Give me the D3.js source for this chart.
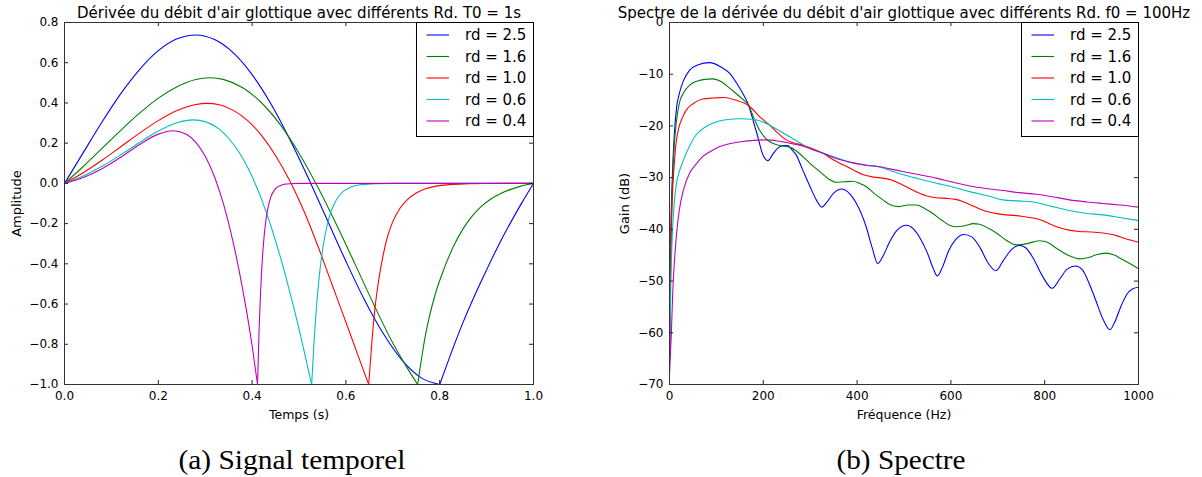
<!DOCTYPE html>
<html><head><meta charset="utf-8">
<script src="https://cdn.jsdelivr.net/npm/d3@7"></script>
<style>
body{margin:0;background:#fff}
svg{display:block}
</style>
</head><body>
<svg id="c" width="1202" height="477"></svg>
<script>
// ---------- data ----------
const seriesLabels = ["rd = 2.5", "rd = 1.6", "rd = 1.0", "rd = 0.6", "rd = 0.4"];
const seriesColors = ["#0000ff", "#008000", "#ff0000", "#00bfbf", "#bf00bf"];

const timeTicks = [0, 0.2, 0.4, 0.6, 0.8, 1.0];
const ampTicks = [-1.0, -0.8, -0.6, -0.4, -0.2, 0.0, 0.2, 0.4, 0.6, 0.8];
const freqTicks = [0, 200, 400, 600, 800, 1000];
const gainTicks = [-70, -60, -50, -40, -30, -20, -10, 0];

// time signal (s, amplitude)
const timeRd25 = [0,0.04,0.08,0.12,0.16,0.20,0.24,0.28,0.32,0.36,0.40,0.44,0.48,0.52,0.56,0.60,0.64,0.68,0.72,0.76,0.80,0.825,0.85,0.875,0.90,0.925,0.95,0.975,1.0];
const ampRd25  = [0,0.153,0.305,0.446,0.566,0.660,0.719,0.738,0.715,0.649,0.541,0.396,0.221,0.026,-0.181,-0.387,-0.581,-0.748,-0.880,-0.966,-1.0,-0.84,-0.69,-0.555,-0.43,-0.31,-0.20,-0.097,0];

const timeRd16 = [0,0.04,0.08,0.12,0.16,0.20,0.24,0.28,0.31,0.34,0.38,0.42,0.46,0.50,0.54,0.58,0.62,0.66,0.70,0.73,0.753,0.77,0.79,0.81,0.83,0.85,0.87,0.89,0.91,0.93,0.95,0.97,0.985,1.0];
const ampRd16  = [0,0.084,0.174,0.264,0.349,0.424,0.481,0.517,0.525,0.516,0.476,0.401,0.292,0.150,-0.018,-0.206,-0.404,-0.605,-0.794,-0.915,-1.0,-0.75,-0.555,-0.42,-0.31,-0.225,-0.16,-0.112,-0.076,-0.05,-0.031,-0.016,-0.007,0];

const timeRd10 = [0,0.04,0.08,0.12,0.16,0.20,0.24,0.28,0.303,0.33,0.36,0.39,0.42,0.45,0.48,0.51,0.54,0.57,0.60,0.625,0.6486,0.655,0.662,0.67,0.68,0.69,0.70,0.715,0.73,0.75,0.77,0.79,0.82,0.86,0.90,1.0];
const ampRd10  = [0,0.053,0.115,0.182,0.250,0.312,0.362,0.392,0.398,0.391,0.363,0.313,0.239,0.139,0.014,-0.135,-0.31,-0.50,-0.69,-0.85,-1.0,-0.80,-0.62,-0.48,-0.35,-0.255,-0.19,-0.125,-0.083,-0.048,-0.027,-0.015,-0.006,-0.002,-0.0005,0];

const timeRd06 = [0,0.04,0.08,0.12,0.16,0.20,0.24,0.275,0.30,0.33,0.36,0.38,0.40,0.42,0.44,0.46,0.48,0.50,0.515,0.527,0.532,0.537,0.542,0.547,0.555,0.565,0.575,0.59,0.61,0.63,0.66,0.70,1.0];
const ampRd06  = [0,0.037,0.085,0.142,0.203,0.260,0.302,0.316,0.307,0.270,0.196,0.125,0.034,-0.078,-0.211,-0.364,-0.537,-0.724,-0.876,-1.0,-0.79,-0.62,-0.49,-0.386,-0.264,-0.164,-0.102,-0.049,-0.019,-0.007,-0.002,0,0];

const timeRd04 = [0,0.04,0.08,0.12,0.16,0.20,0.232,0.26,0.28,0.30,0.32,0.34,0.36,0.38,0.40,0.4116,0.415,0.418,0.421,0.424,0.428,0.433,0.44,0.45,0.46,0.48,0.50,0.55,1.0];
const ampRd04  = [0,0.029,0.073,0.130,0.193,0.245,0.262,0.244,0.204,0.135,0.032,-0.111,-0.297,-0.528,-0.806,-1.0,-0.723,-0.544,-0.409,-0.307,-0.21,-0.13,-0.067,-0.026,-0.01,-0.0015,0,0,0];

// spectrum (Hz, dB)
const freqRd25 = [0,3,6,10,15,21,30,43,60,85,110,128,145,156,169,180,188,198,210,220,231,242,252,262,270,284,300,313,325,335,350,367,385,398,419,432,444,455,470,485,505,520,535,550,562,571,582,595,610,628,645,660,680,696,712,728,746,760,775,795,816,832,848,866,880,895,910,925,939,950,962,975,988,1000];
const gainRd25 = [-65,-40,-30,-22,-16.5,-13.7,-11.2,-9.2,-8.2,-7.75,-8.6,-9.8,-12,-13.7,-16.1,-19.5,-22.0,-25.3,-26.7,-25.5,-24.3,-23.8,-23.8,-24.7,-25.6,-28.5,-31.8,-34.3,-35.7,-34.8,-33,-32.2,-33.2,-34.9,-39.4,-43.5,-46.6,-45.2,-42.3,-40.2,-39.2,-39.9,-41.8,-44.6,-47.5,-49.0,-47.3,-44.2,-42,-41.0,-41.5,-43.2,-46.6,-48.0,-46,-44,-43.1,-43.6,-45.5,-49,-51.4,-49.6,-47.7,-47.1,-47.8,-50.5,-54,-57.5,-59.4,-57.8,-55,-52.6,-51.5,-51.2];

const freqRd16 = [0,3,6,10,15,21,30,43,60,75,92,110,128,153,169,181,192,203,213,224,235,256,270,284,300,320,340,355,372,391,405,419,437,455,472,490,508,526,543,561,580,597,612,630,648,661,680,697,718,739,760,789,806,824,850,874,892,910,930,947,965,985,1000];
const gainRd16 = [-65,-42,-32,-24,-19,-15.6,-13.6,-12.1,-11.3,-11.0,-10.9,-11.4,-12.7,-14.6,-16.1,-18.7,-20.8,-22.2,-23.0,-23.5,-23.8,-24.1,-24.8,-25.9,-27.3,-28.8,-30.3,-30.9,-30.8,-30.7,-31.1,-31.7,-33.1,-34.3,-35.3,-35.6,-35.3,-35.3,-35.9,-36.9,-38.2,-39.2,-39.5,-39.3,-38.9,-39.0,-39.8,-40.7,-42.1,-43.0,-42.8,-42.2,-42.5,-43.6,-45.0,-45.7,-45.5,-44.9,-44.6,-44.9,-45.8,-46.8,-47.6];

const freqRd10 = [0,3,6,10,14,20,28,36,50,71,95,117,140,169,192,213,230,249,265,284,305,327,350,370,392,412,435,455,475,497,520,547,570,590,610,625,650,675,700,718,735,753,775,789,810,832,855,874,900,924,945,959,980,1000];
const gainRd10 = [-65,-44,-34,-27.5,-23.3,-20.3,-18.3,-16.9,-15.7,-14.8,-14.6,-14.5,-15.0,-16.1,-18.2,-19.8,-21.3,-22.7,-23.3,-23.7,-24.4,-25.3,-26.6,-27.5,-28.5,-29.4,-29.9,-30.1,-30.5,-31.4,-32.5,-33.5,-33.9,-34.0,-34.2,-34.6,-35.6,-36.5,-37.0,-37.2,-37.3,-37.5,-37.8,-38.1,-38.9,-39.7,-40.2,-40.4,-40.5,-40.7,-41.0,-41.4,-42.0,-42.5];

const freqRd06 = [0,3,6,10,15,21,28,40,57,75,92,120,153,175,192,213,230,249,275,298,325,355,380,400,420,441,470,497,530,569,600,640,682,711,745,782,817,850,888,924,960,1000];
const gainRd06 = [-66,-50,-41,-35,-31,-28.8,-27.0,-24.4,-21.7,-20.3,-19.5,-18.8,-18.6,-18.7,-19.0,-19.8,-20.7,-21.7,-23.1,-24.3,-25.2,-26.1,-26.9,-27.3,-27.6,-27.8,-28.6,-29.4,-30.2,-31.1,-31.7,-32.7,-33.6,-34.3,-34.5,-34.8,-35.6,-36.3,-36.9,-37.2,-37.7,-38.3];

const freqRd04 = [0,4,7,11,16,21,30,43,55,71,90,107,130,156,180,206,230,249,275,298,325,355,390,426,441,470,497,530,569,605,640,675,711,745,782,817,853,890,924,960,1000];
const gainRd04 = [-68,-60,-52,-45.5,-40,-36.2,-32.3,-29.1,-27.6,-25.9,-24.8,-24.0,-23.4,-23.0,-22.8,-22.7,-22.9,-23.2,-23.7,-24.3,-25.2,-26.3,-27.1,-27.7,-27.8,-28.3,-28.8,-29.4,-30.1,-30.9,-31.6,-32.1,-32.5,-32.9,-33.2,-33.7,-34.3,-34.7,-35.0,-35.3,-35.7];

// ---------- drawing ----------
const FONT = "'DejaVu Sans', 'Liberation Sans', sans-serif";
const svg = d3.select("#c");
const defs = svg.append("defs");

function splitAtMin(pts) {
  const k = d3.minIndex(pts, d => d[1]);
  if (k <= 0 || k >= pts.length - 1) return [pts];
  return [pts.slice(0, k + 1), pts.slice(k)];
}

function drawPanel(cfg) {
  const { x0, x1, y0, y1 } = cfg.box;
  const x = d3.scaleLinear().domain(cfg.xDomain).range([x0, x1]);
  const y = d3.scaleLinear().domain(cfg.yDomain).range([y1, y0]);
  const g = svg.append("g");

  defs.append("clipPath").attr("id", cfg.id)
    .append("rect").attr("x", x0 + 0.5).attr("y", y0 + 0.5)
    .attr("width", x1 - x0).attr("height", y1 - y0);

  const lg = g.append("g").attr("clip-path", `url(#${cfg.id})`);
  const line = d3.line().x(d => x(d[0]) + 0.5).y(d => y(d[1]) + 0.5).curve(d3.curveMonotoneX);
  cfg.series.forEach((s, i) => {
    const pts = s.xs.map((v, k) => [v, s.ys[k]]);
    const parts = cfg.split ? splitAtMin(pts) : [pts];
    parts.forEach(p => lg.append("path").attr("d", line(p))
      .attr("fill", "none").attr("stroke", seriesColors[i])
      .attr("stroke-width", 1.1).attr("stroke-linejoin", "round"));
  });

  const styleAxis = sel => {
    sel.select(".domain").remove();
    sel.attr("font-family", FONT).attr("font-size", 12).style("color", "#000");
    sel.selectAll(".tick line").attr("stroke", "#222");
  };

  g.append("g").attr("transform", `translate(0,${y1})`)
    .call(d3.axisBottom(x).tickValues(cfg.xTicks).tickFormat(cfg.xFmt).tickSizeInner(-4).tickSizeOuter(0).tickPadding(7))
    .call(styleAxis);
  g.append("g").attr("transform", `translate(0,${y0})`)
    .call(d3.axisTop(x).tickValues(cfg.xTicks).tickFormat("").tickSizeInner(-4).tickSizeOuter(0))
    .call(styleAxis);
  g.append("g").attr("transform", `translate(${x0},0)`)
    .call(d3.axisLeft(y).tickValues(cfg.yTicks).tickFormat(cfg.yFmt).tickSizeInner(-4).tickSizeOuter(0).tickPadding(5.5))
    .call(styleAxis);
  g.append("g").attr("transform", `translate(${x1},0)`)
    .call(d3.axisRight(y).tickValues(cfg.yTicks).tickFormat("").tickSizeInner(-4).tickSizeOuter(0))
    .call(styleAxis);

  // frame
  g.append("rect").attr("x", x0 + 0.5).attr("y", y0 + 0.5)
    .attr("width", x1 - x0).attr("height", y1 - y0)
    .attr("fill", "none").attr("stroke", "#333").attr("stroke-width", 1);

  // legend
  const lw = 117, lh = 114;
  const lx = x1 + 0.5 - lw, ly = y0 + 0.5;
  const leg = g.append("g");
  leg.append("rect").attr("x", lx).attr("y", ly).attr("width", lw).attr("height", lh)
    .attr("fill", "#fff").attr("stroke", "#000").attr("stroke-width", 1);
  seriesLabels.forEach((lab, i) => {
    const ry = y0 + 13 + i * 21.5;
    leg.append("line").attr("x1", lx + 10).attr("x2", lx + 32.5)
      .attr("y1", ry).attr("y2", ry).attr("stroke", seriesColors[i]).attr("stroke-width", 1.1);
    leg.append("text").attr("x", lx + 48.5).attr("y", ry).attr("dy", "0.36em")
      .attr("font-family", FONT).attr("font-size", 15).attr("fill", "#000").text(lab);
  });

  // title
  g.append("text").attr("x", (x0 + x1) / 2 + 0.5).attr("y", 17.5)
    .attr("text-anchor", "middle").attr("font-family", FONT).attr("font-size", 15)
    .attr("fill", "#000").text(cfg.title);
  // axis labels
  g.append("text").attr("x", (x0 + x1) / 2 + 0.5).attr("y", 418.5)
    .attr("text-anchor", "middle").attr("font-family", FONT).attr("font-size", 12.5)
    .attr("fill", "#000").text(cfg.xLabel);
  g.append("text").attr("transform", `translate(${cfg.yLabelX},${(y0 + y1) / 2 + 0.5}) rotate(-90)`)
    .attr("text-anchor", "middle").attr("font-family", FONT).attr("font-size", 13)
    .attr("fill", "#000").text(cfg.yLabel);
  // caption
  g.append("text").attr("x", cfg.capX).attr("y", 469)
    .attr("text-anchor", "middle").attr("font-family", "'Liberation Serif', 'DejaVu Serif', serif")
    .attr("font-size", 28).attr("textLength", cfg.capW).attr("lengthAdjust", "spacingAndGlyphs")
    .attr("fill", "#000").text(cfg.caption);
}

drawPanel({
  id: "clipL", box: { x0: 64, x1: 533, y0: 22, y1: 384 },
  xDomain: [0, 1], yDomain: [-1, 0.8],
  xTicks: timeTicks, yTicks: ampTicks,
  xFmt: d3.format(".1f"), yFmt: d3.format(".1f"),
  split: true,
  series: [
    { xs: timeRd25, ys: ampRd25 }, { xs: timeRd16, ys: ampRd16 }, { xs: timeRd10, ys: ampRd10 },
    { xs: timeRd06, ys: ampRd06 }, { xs: timeRd04, ys: ampRd04 }
  ],
  title: "Dérivée du débit d'air glottique avec différents Rd. T0 = 1s",
  xLabel: "Temps (s)", yLabel: "Amplitude", yLabelX: 20.5,
  caption: "(a) Signal temporel", capX: 292, capW: 227
});

drawPanel({
  id: "clipR", box: { x0: 669, x1: 1138, y0: 22, y1: 384 },
  xDomain: [0, 1000], yDomain: [-70, 0],
  xTicks: freqTicks, yTicks: gainTicks,
  xFmt: d3.format("d"), yFmt: d3.format("d"),
  split: false,
  series: [
    { xs: freqRd25, ys: gainRd25 }, { xs: freqRd16, ys: gainRd16 }, { xs: freqRd10, ys: gainRd10 },
    { xs: freqRd06, ys: gainRd06 }, { xs: freqRd04, ys: gainRd04 }
  ],
  title: "Spectre de la dérivée du débit d'air glottique avec différents Rd. f0 = 100Hz",
  xLabel: "Fréquence (Hz)", yLabel: "Gain (dB)", yLabelX: 629,
  caption: "(b) Spectre", capX: 901, capW: 129
});
</script>
</body></html>
